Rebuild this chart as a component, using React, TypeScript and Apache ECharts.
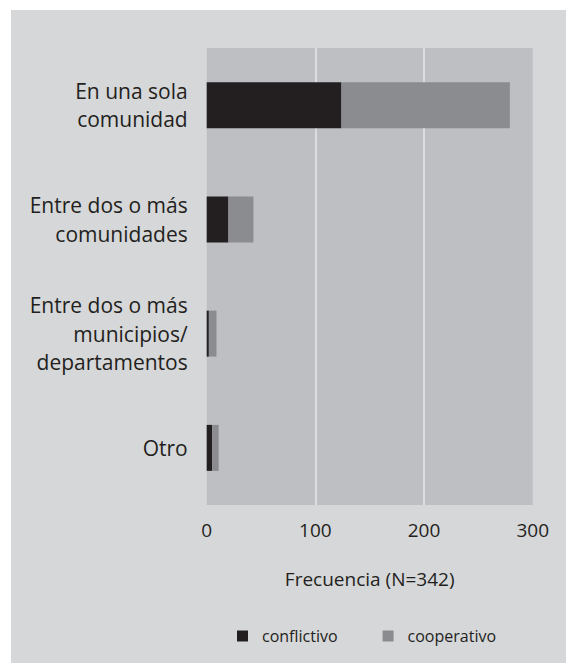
import React, { useEffect, useRef } from "react";
import * as echarts from "echarts";

const categories = [
  "En una sola\ncomunidad",
  "Entre dos o más\ncomunidades",
  "Entre dos o más\nmunicipios/\ndepartamentos",
  "Otro",
];
const conflictivo = [124, 20, 2, 5];
const cooperativo = [155, 23, 7, 6];
const xTicks = [0, 100, 200, 300];
const axisName = "Frecuencia (N=342)";

const FONT = "Open Sans";
const TEXT = "#231f20";

export default function App() {
  const ref = useRef<HTMLDivElement>(null);
  useEffect(() => {
    const chart = echarts.init(ref.current!, null, { renderer: "svg" });
    chart.setOption({
      animation: false,
      backgroundColor: "#ffffff",
      graphic: [
        {
          type: "rect",
          z: -10,
          shape: { x: 11, y: 10, width: 560, height: 660 },
          style: { fill: "#d6d7d9" },
          silent: true,
        },
      ],
      grid: {
        left: 206.7,
        right: 33.3,
        top: 48,
        bottom: 158,
        show: true,
        backgroundColor: "#bebfc3",
        borderWidth: 0,
        containLabel: false,
      },
      legend: {
        left: 232,
        top: 623,
        itemWidth: 11,
        itemHeight: 11,
        itemGap: 45,
        icon: "rect",
        textStyle: {
          fontFamily: FONT,
          fontSize: 16,
          color: TEXT,
          padding: [0, 0, 0, 9],
        },
        data: ["conflictivo", "cooperativo"],
      },
      xAxis: {
        type: "value",
        min: xTicks[0],
        max: xTicks[xTicks.length - 1],
        interval: 100,
        name: axisName,
        nameLocation: "middle",
        nameGap: 64,
        nameTextStyle: { fontFamily: FONT, fontSize: 19, color: TEXT },
        axisLine: { show: false },
        axisTick: { show: false },
        axisLabel: {
          fontFamily: FONT,
          fontSize: 19,
          color: TEXT,
          margin: 15,
        },
        splitLine: {
          show: true,
          showMinLine: false,
          showMaxLine: false,
          lineStyle: { color: "#dcdde0", width: 2 },
        },
      },
      yAxis: {
        type: "category",
        inverse: true,
        data: categories,
        axisLine: { show: false },
        axisTick: { show: false },
        axisLabel: {
          fontFamily: FONT,
          fontSize: 21,
          color: TEXT,
          lineHeight: 28.5,
          margin: 19,
          align: "right",
        },
      },
      series: [
        {
          name: "conflictivo",
          type: "bar",
          stack: "total",
          barWidth: 46,
          data: conflictivo,
          itemStyle: { color: "#231f20" },
        },
        {
          name: "cooperativo",
          type: "bar",
          stack: "total",
          barWidth: 46,
          data: cooperativo,
          itemStyle: { color: "#8b8c8f" },
        },
      ],
    });
    return () => chart.dispose();
  }, []);
  return (
    <div
      ref={ref}
      style={{
        position: "fixed",
        left: 0,
        top: 0,
        width: 566,
        height: 663,
      }}
    />
  );
}
